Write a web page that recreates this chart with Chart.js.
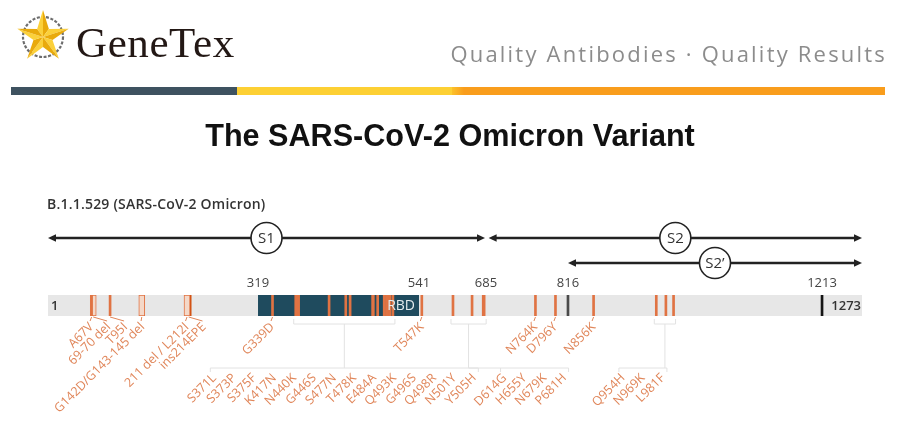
<!DOCTYPE html>
<html>
<head>
<meta charset="utf-8">
<title>The SARS-CoV-2 Omicron Variant</title>
<script src="https://cdn.jsdelivr.net/npm/chart.js@4.4.1/dist/chart.umd.min.js"></script>
<style>
  html, body { margin: 0; padding: 0; background: #fff; }
  #page { position: relative; width: 900px; height: 433px; overflow: hidden; }
  #spike { position: absolute; left: 0; top: 0; }
  #logo { position: absolute; left: 0; top: 0; }
  .brand { position: absolute; left: 76px; top: 22px; font: 43px/42px "Liberation Serif", "DejaVu Serif", serif; letter-spacing: 0.6px; color: #231815; white-space: nowrap; }
  .tagline { position: absolute; right: 13px; top: 42px; font: 22px/22px "Open Sans", sans-serif; letter-spacing: 2.2px; color: #8c8c8c; white-space: nowrap; }
  .stripe { position: absolute; top: 87px; height: 8px; }
  h1 { position: absolute; left: 0; top: 120px; width: 900px; margin: 0; text-align: center; font: bold 30.6px/30px "Liberation Sans", Arial, sans-serif; color: #111; }
  .variant { position: absolute; left: 47px; top: 197px; font: 600 14px/14px "Open Sans", sans-serif; letter-spacing: 0.2px; color: #333; white-space: nowrap; }
</style>
</head>
<body>
<div id="page">
  <canvas id="spike" width="900" height="433"></canvas>
  <canvas id="logo" width="90" height="75"></canvas>
  <div class="brand">GeneTex</div>
  <div class="tagline">Quality Antibodies · Quality Results</div>
  <div class="stripe" style="left:11px;width:226px;background:#3e5260"></div>
  <div class="stripe" style="left:237px;width:215px;background:#fdd034"></div>
  <div class="stripe" style="left:452px;width:433px;background:linear-gradient(90deg,#fcc12a 0,#f99d1c 12px,#f99d1c 100%)"></div>
  <h1>The SARS-CoV-2 Omicron Variant</h1>
  <div class="variant">B.1.1.529 (SARS-CoV-2 Omicron)</div>
</div>
<script>
// spike protein coordinates (residues)
const proteinStart = 1;
const proteinEnd = 1273;
const tickResidues = [319, 541, 685, 816, 1213];
const rbdRange = [319, 541];
const boundaryResidues = [816, 1213];

// subunits drawn as arrows above the bar
const subunitNames = ['S1', 'S2', 'S2\u2019'];
const subunitStarts = [1, 686, 816];
const subunitEnds = [685, 1273, 1273];

// mutations labelled directly under the bar
const topLabels = ['A67V', '69-70 del', 'T95I', 'G142D/G143-145 del', '211 del / L212I', 'ins214EPE',
                   'G339D', 'T547K', 'N764K', 'D796Y', 'N856K'];
const topResidues = [67, 69.5, 95, 143, 211.5, 214, 339, 547, 764, 796, 856];
const topKinds = ['sub', 'del', 'sub', 'del', 'del', 'ins', 'sub', 'sub', 'sub', 'sub', 'sub'];

// mutations listed in the lower row, by cluster
const lowLabels = ['S371L', 'S373P', 'S375F', 'K417N', 'N440K', 'G446S', 'S477N', 'T478K', 'E484A',
                   'Q493K', 'G496S', 'Q498R', 'N501Y', 'Y505H',
                   'D614G', 'H655Y', 'N679K', 'P681H',
                   'Q954H', 'N969K', 'L981F'];
const lowResidues = [371, 373, 375, 417, 440, 446, 477, 478, 484, 493, 496, 498, 501, 505,
                     614, 655, 679, 681,
                     954, 969, 981];
const lowGroups = [0, 0, 0, 0, 0, 0, 0, 0, 0, 0, 0, 0, 0, 0,
                   1, 1, 1, 1,
                   2, 2, 2];

const markColor = '#e07343';
const labelColor = '#e0865a';

// schematic axis: linear between the labelled residues, like the original drawing
class SchematicScale extends Chart.LinearScale {
  static id = 'schematic';
  static defaults = {};
  getPixelForValue(value) {
    const vs = this.options.knotValues, fs = this.options.knotFractions;
    let i = 1;
    while (i < vs.length - 1 && value > vs[i]) i++;
    const f = fs[i - 1] + (value - vs[i - 1]) / (vs[i] - vs[i - 1]) * (fs[i] - fs[i - 1]);
    return this.left + f * this.width;
  }
  getValueForPixel(pixel) {
    const vs = this.options.knotValues, fs = this.options.knotFractions;
    const f = (pixel - this.left) / this.width;
    let i = 1;
    while (i < fs.length - 1 && f > fs[i]) i++;
    return vs[i - 1] + (f - fs[i - 1]) / (fs[i] - fs[i - 1]) * (vs[i] - vs[i - 1]);
  }
}
Chart.register(SchematicScale);

function drawLogo() {
  const c = document.getElementById('logo').getContext('2d');
  const cx = 43, cy = 37;
  c.strokeStyle = '#6d6d6d';
  c.lineWidth = 2.2;
  c.setLineDash([3, 1.6]);
  c.beginPath(); c.arc(cx, cy, 20, 0, Math.PI * 2); c.stroke();
  c.setLineDash([]);
  for (let k = 0; k < 5; k++) {
    const a = -Math.PI / 2 + k * 2 * Math.PI / 5;
    const tip = [cx + 27 * Math.cos(a), cy + 27 * Math.sin(a)];
    const l = [cx + 10 * Math.cos(a - Math.PI / 5), cy + 10 * Math.sin(a - Math.PI / 5)];
    const r = [cx + 10 * Math.cos(a + Math.PI / 5), cy + 10 * Math.sin(a + Math.PI / 5)];
    c.fillStyle = '#fbd03a';
    c.beginPath(); c.moveTo(cx, cy); c.lineTo(...l); c.lineTo(...tip); c.closePath(); c.fill();
    c.fillStyle = '#e9aa0c';
    c.beginPath(); c.moveTo(cx, cy); c.lineTo(...tip); c.lineTo(...r); c.closePath(); c.fill();
  }
}
drawLogo();

function rotatedText(ctx, text, x, y) {
  ctx.save();
  ctx.translate(x, y);
  ctx.rotate(-Math.PI / 4);
  ctx.textAlign = 'right';
  ctx.textBaseline = 'middle';
  ctx.fillText(text, 0, 0);
  ctx.restore();
}

function drawArrow(ctx, x0, x1, y) {
  ctx.strokeStyle = '#222';
  ctx.fillStyle = '#222';
  ctx.lineWidth = 2.5;
  ctx.beginPath(); ctx.moveTo(x0 + 4, y); ctx.lineTo(x1 - 4, y); ctx.stroke();
  [[x0, 1], [x1, -1]].forEach(([tx, d]) => {
    ctx.beginPath();
    ctx.moveTo(tx, y);
    ctx.lineTo(tx + 8 * d, y - 3.8);
    ctx.lineTo(tx + 8 * d, y + 3.8);
    ctx.closePath();
    ctx.fill();
  });
}

const spikeDecor = {
  id: 'spikeDecor',
  afterDraw(chart) {
    const { ctx, chartArea: a, scales: { x } } = chart;
    const px = v => x.getPixelForValue(v);
    const midY = (a.top + a.bottom) / 2;
    ctx.save();

    // residue numbers at the ends of the bar
    ctx.fillStyle = '#333';
    ctx.font = '600 13px "Open Sans"';
    ctx.textBaseline = 'middle';
    ctx.textAlign = 'left';
    ctx.fillText(String(proteinStart), a.left + 3, midY + 1);
    ctx.textAlign = 'right';
    ctx.fillText(String(proteinEnd), a.right - 1, midY + 1);

    ctx.fillStyle = '#e3ebee';
    ctx.font = '14px "Open Sans"';
    ctx.fillText('RBD', px(rbdRange[1]) - 4, midY + 1);

    // S1 / S2 / S2' arrows
    const rows = [a.top - 57, a.top - 57, a.top - 32];
    subunitNames.forEach((name, i) => {
      const x0 = px(subunitStarts[i]) + (i === 1 ? 2 : 0);
      const x1 = px(subunitEnds[i]) - (i === 0 ? 1 : 0);
      drawArrow(ctx, x0, x1, rows[i]);
      const cx = (x0 + x1) / 2;
      ctx.beginPath();
      ctx.arc(cx, rows[i], 15.5, 0, Math.PI * 2);
      ctx.fillStyle = '#fff';
      ctx.fill();
      ctx.lineWidth = 1.6;
      ctx.stroke();
      ctx.fillStyle = '#333';
      ctx.font = '15px "Open Sans"';
      ctx.textAlign = 'center';
      ctx.textBaseline = 'middle';
      ctx.fillText(name, cx, rows[i] + 1);
    });

    // first row of mutation labels, nudged apart where marks crowd
    ctx.font = '12.5px "Open Sans"';
    let last = -Infinity;
    topLabels.forEach((t, i) => {
      const mx = px(topResidues[i]);
      const ax = Math.max(mx, last + 17);
      last = ax;
      ctx.strokeStyle = labelColor;
      ctx.lineWidth = 1;
      ctx.beginPath(); ctx.moveTo(mx, a.bottom + 1); ctx.lineTo(ax - 1.5, a.bottom + 5); ctx.stroke();
      ctx.fillStyle = labelColor;
      rotatedText(ctx, t, ax, a.bottom + 9);
    });

    // second row: clustered labels hang from faint brackets
    const groupShift = [0, 66, -22];
    const step = 20;
    const lineY = a.bottom + 52;
    groupShift.forEach((shift, g) => {
      const idx = lowGroups.map((v, i) => v === g ? i : -1).filter(i => i >= 0);
      const xs = idx.map(i => px(lowResidues[i]));
      const lo = Math.min(...xs), hi = Math.max(...xs), c = (lo + hi) / 2;
      const first = c + shift - (idx.length - 1) / 2 * step;
      const lastX = first + (idx.length - 1) * step;
      ctx.strokeStyle = '#e2e2e2';
      ctx.lineWidth = 1;
      ctx.beginPath();
      ctx.moveTo(lo - 2, a.bottom + 3); ctx.lineTo(lo - 2, a.bottom + 8);
      ctx.lineTo(hi + 2, a.bottom + 8); ctx.lineTo(hi + 2, a.bottom + 3);
      ctx.moveTo(c, a.bottom + 8); ctx.lineTo(c, lineY);
      ctx.moveTo(Math.min(c, first - 4), lineY); ctx.lineTo(Math.max(c, lastX + 4), lineY);
      ctx.moveTo(first - 4, lineY); ctx.lineTo(first - 4, lineY + 4);
      ctx.moveTo(lastX + 4, lineY); ctx.lineTo(lastX + 4, lineY + 4);
      ctx.stroke();
      ctx.fillStyle = labelColor;
      ctx.font = '12.5px "Open Sans"';
      idx.forEach((i, k) => rotatedText(ctx, lowLabels[i], first + k * step, a.bottom + 60));
    });
    ctx.restore();
  }
};

const toBar = r => ({ x: r, y: [0, 1] });
const subResidues = topResidues.filter((r, i) => topKinds[i] === 'sub').concat(lowResidues);
const delResidues = topResidues.filter((r, i) => topKinds[i] === 'del');
const insResidues = topResidues.filter((r, i) => topKinds[i] === 'ins');

new Chart(document.getElementById('spike'), {
  type: 'bar',
  data: {
    datasets: [
      { label: 'substitutions', data: subResidues.map(toBar), backgroundColor: markColor,
        barThickness: 2, grouped: false, order: 0 },
      { label: 'deletions', data: delResidues.map(toBar), backgroundColor: '#f4d8c8',
        borderColor: markColor, borderWidth: 1, borderSkipped: false, barThickness: 6, grouped: false, order: 0 },
      { label: 'insertion', data: insResidues.map(toBar), backgroundColor: '#d1500f',
        barThickness: 5, grouped: false, order: 0 },
      { label: 'boundaries', data: boundaryResidues.map(toBar), backgroundColor: ['#4a4a4a', '#151515'],
        barThickness: 2, grouped: false, order: 0 },
      { type: 'line', label: 'RBD', data: [{ x: rbdRange[0], y: 1 }, { x: rbdRange[1], y: 1 }],
        fill: 'origin', backgroundColor: '#1f4b5e', borderWidth: 0, pointRadius: 0, order: 1 },
      { type: 'line', label: 'spike', data: [{ x: proteinStart, y: 1 }, { x: proteinEnd, y: 1 }],
        fill: 'origin', backgroundColor: '#e7e7e7', borderWidth: 0, pointRadius: 0, order: 2 }
    ]
  },
  options: {
    responsive: false,
    devicePixelRatio: 1,
    animation: false,
    events: [],
    layout: { padding: { left: 48, right: 38, top: 265, bottom: 117 } },
    plugins: { legend: { display: false }, tooltip: { enabled: false } },
    scales: {
      x: {
        type: 'schematic',
        position: 'top',
        min: proteinStart,
        max: proteinEnd,
        offset: false,
        knotValues: [proteinStart, ...tickResidues, proteinEnd],
        knotFractions: [0, 0.258, 0.4558, 0.5381, 0.6388, 0.9509, 1],
        afterBuildTicks: s => { s.ticks = tickResidues.map(v => ({ value: v })); },
        afterFit: s => { s.height = 30; },
        grid: { display: false, drawTicks: false },
        border: { display: false },
        ticks: { color: '#444', font: { family: 'Open Sans', size: 13 }, padding: 4,
                 autoSkip: false, maxRotation: 0, callback: v => String(v) }
      },
      y: { type: 'linear', min: 0, max: 1, display: false }
    }
  },
  plugins: [spikeDecor]
});
</script>
</body>
</html>
